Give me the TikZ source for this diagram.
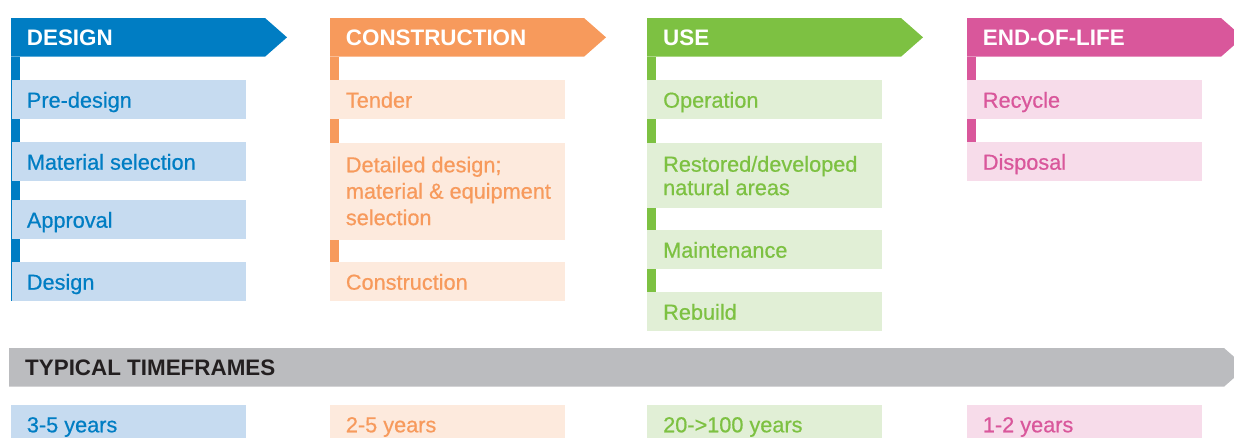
\documentclass[tikz,border=0pt]{standalone}
\usepackage{fontspec}
\setmainfont{Liberation Sans}
\newfontfamily\medfam[FakeBold=0.6]{Liberation Sans}
\newcommand\regf{\medfam\fontsize{21.7}{26}\selectfont}
\newcommand\bldf{\fontsize{22.4}{26}\selectfont\bfseries}
\definecolor{dblue}{HTML}{007DC3}
\definecolor{lblue}{HTML}{C6DBF0}
\definecolor{dorange}{HTML}{F79A5C}
\definecolor{lorange}{HTML}{FDEADD}
\definecolor{dgreen}{HTML}{7DC142}
\definecolor{lgreen}{HTML}{E1EFD6}
\definecolor{dpink}{HTML}{D9579B}
\definecolor{lpink}{HTML}{F7DCEA}
\definecolor{tgray}{HTML}{BBBCBF}
\definecolor{tdark}{HTML}{231F20}
\tikzset{
  cell/.style={anchor=north west, inner sep=0pt, minimum width=235pt, minimum height=38.7pt, fill=#1},
  lbl/.style={anchor=base west, inner sep=0pt, font=\regf, text=#1},
  hlbl/.style={anchor=base west, inner sep=0pt, font=\bldf, text=#1},
}
\newcommand\hdrshape[3]{% left, rect end, colour
  \fill[#3] (#1,18) -- (#2,18) -- (#2+22,37.35) -- (#2,56.7) -- (#1,56.7) -- cycle;}
\begin{document}
\begin{tikzpicture}[x=1pt,y=-1pt]
\useasboundingbox (0,0) rectangle (1234,437);
\clip (0,0) rectangle (1234,437);

% ---------- DESIGN ----------
\hdrshape{11}{265}{dblue}
\node[hlbl=white] (hdesign) at (26.7,45.6) {DESIGN};
\fill[dblue] (11,56.7) rectangle (19.5,262);
\node[cell=lblue] (d1) at (11,80) {};
\node[cell=lblue] (d2) at (11,142) {};
\node[cell=lblue] (d3) at (11,200) {};
\node[cell=lblue] (d4) at (11,262) {};
\draw[dblue, line width=1pt] (11.5,56.7) -- (11.5,300.7);
\node[lbl=dblue] (td1) at (26.7,107.7) {Pre-design};
\node[lbl=dblue] (td2) at (26.7,169.7) {Material selection};
\node[lbl=dblue] (td3) at (26.7,227.7) {Approval};
\node[lbl=dblue] (td4) at (26.7,289.7) {Design};

% ---------- CONSTRUCTION ----------
\hdrshape{330}{584}{dorange}
\node[hlbl=white] (hconstr) at (345.7,45.6) {CONSTRUCTION};
\fill[dorange] (330,56.7) rectangle (339,262);
\node[cell=lorange] (c1) at (330,80) {};
\node[cell=lorange, minimum height=97.3pt] (c2) at (330,142.7) {};
\node[cell=lorange] (c3) at (330,262) {};
\node[lbl=dorange] (tc1) at (345.7,107.7) {Tender};
\node[lbl=dorange] (tc2) at (345.7,172.3) {\vtop{\baselineskip=26.4pt\lineskiplimit=-100pt
  \hbox{Detailed design;}\hbox{material \& equipment}\hbox{selection}}};
\node[lbl=dorange] (tc3) at (345.7,289.7) {Construction};

% ---------- USE ----------
\hdrshape{647}{901}{dgreen}
\node[hlbl=white] (huse) at (663,45.6) {USE};
\fill[dgreen] (647,56.7) rectangle (656,292);
\node[cell=lgreen] (u1) at (647,80) {};
\node[cell=lgreen, minimum height=65pt] (u2) at (647,142.7) {};
\node[cell=lgreen] (u3) at (647,230) {};
\node[cell=lgreen] (u4) at (647,292) {};
\node[lbl=dgreen] (tu1) at (663,107.7) {Operation};
\node[lbl=dgreen] (tu2) at (663,171.7) {\vtop{\baselineskip=23.4pt\lineskiplimit=-100pt
  \hbox{Restored/developed}\hbox{natural areas}}};
\node[lbl=dgreen] (tu3) at (663,257.7) {Maintenance};
\node[lbl=dgreen] (tu4) at (663,319.7) {Rebuild};

% ---------- END-OF-LIFE ----------
\hdrshape{967}{1221}{dpink}
\node[hlbl=white] (heol) at (982.7,45.6) {END-OF-LIFE};
\fill[dpink] (967,56.7) rectangle (976,142);
\node[cell=lpink] (e1) at (967,80) {};
\node[cell=lpink] (e2) at (967,142) {};
\node[lbl=dpink] (te1) at (982.7,107.7) {Recycle};
\node[lbl=dpink] (te2) at (982.7,169.7) {Disposal};

% ---------- TIMEFRAMES ----------
\fill[tgray] (9,348) -- (1224,348) -- (1246,367.35) -- (1224,386.7) -- (9,386.7) -- cycle;
\node[hlbl=tdark] (htime) at (25,375.7) {TYPICAL TIMEFRAMES};
\node[cell=lblue] (y1) at (11,405) {};
\node[cell=lorange] (y2) at (330,405) {};
\node[cell=lgreen] (y3) at (647,405) {};
\node[cell=lpink] (y4) at (967,405) {};
\node[lbl=dblue] (ty1) at (26.7,432.3) {3-5 years};
\node[lbl=dorange] (ty2) at (345.7,432.3) {2-5 years};
\node[lbl=dgreen] (ty3) at (663,432.3) {20->100 years};
\node[lbl=dpink] (ty4) at (982.7,432.3) {1-2 years};
\end{tikzpicture}
\end{document}
